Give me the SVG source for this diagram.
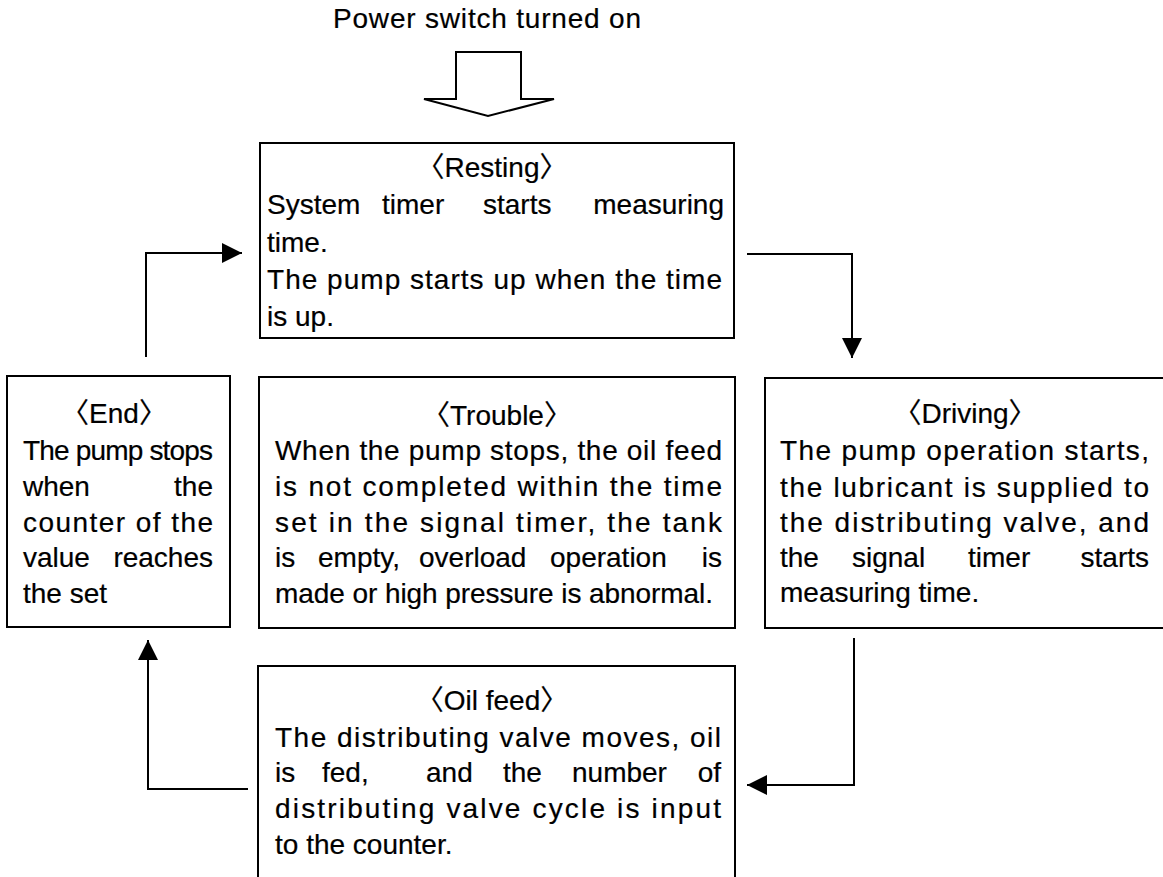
<svg xmlns="http://www.w3.org/2000/svg" width="1163" height="877" viewBox="0 0 1163 877">
<defs>
<style>
.box{fill:#fff;stroke:#000;stroke-width:2}
.t{font-family:"Liberation Sans","Noto Sans CJK JP",sans-serif;font-size:28px;fill:#000;stroke:#000;stroke-width:0.2}
.c{text-anchor:middle}
.e{text-anchor:end}
.ln{fill:none;stroke:#000;stroke-width:2}
</style>
<marker id="ah" markerUnits="userSpaceOnUse" markerWidth="22" markerHeight="22" refX="20" refY="10" orient="auto">
<path d="M0,0 L20,10 L0,20 Z" fill="#000"/>
</marker>
</defs>
<rect width="1163" height="877" fill="#fff"/>

<g id="start">
<text class="t" x="333" y="28" textLength="308">Power switch turned on</text>
<polygon points="456,52 521,52 521,99 554,99 488,116 424,99 456,99" fill="#fff" stroke="#000" stroke-width="2"/>
</g>

<g id="resting">
<rect class="box" x="260" y="143" width="474" height="195"/>
<text class="t c" x="492" y="177">〈Resting〉</text>
<text class="t" x="267" y="214">System</text>
<text class="t" x="382" y="214">timer</text>
<text class="t" x="483" y="214">starts</text>
<text class="t e" x="724" y="214">measuring</text>
<text class="t" x="267" y="252">time.</text>
<text class="t" x="267" y="289" textLength="455">The pump starts up when the time</text>
<text class="t" x="267" y="326">is up.</text>
</g>

<g id="end">
<rect class="box" x="7" y="376" width="223" height="251"/>
<text class="t c" x="114" y="423">〈End〉</text>
<text class="t" x="23" y="460" textLength="190">The pump stops</text>
<text class="t" x="23" y="496">when</text>
<text class="t e" x="213" y="496">the</text>
<text class="t" x="23" y="532" textLength="190">counter of the</text>
<text class="t" x="23" y="567">value</text>
<text class="t e" x="213" y="567">reaches</text>
<text class="t" x="23" y="603">the set</text>
</g>

<g id="trouble">
<rect class="box" x="259" y="377" width="476" height="251"/>
<text class="t c" x="497" y="425">〈Trouble〉</text>
<text class="t" x="275" y="460" textLength="447">When the pump stops,  the oil feed</text>
<text class="t" x="275" y="496" textLength="447">is not completed within the time</text>
<text class="t" x="275" y="532" textLength="447">set in the signal timer,  the tank</text>
<text class="t" x="275" y="567">is</text>
<text class="t" x="318" y="567">empty,</text>
<text class="t" x="419" y="567">overload</text>
<text class="t" x="550" y="567">operation</text>
<text class="t e" x="722" y="567">is</text>
<text class="t" x="275" y="603" textLength="438">made or high pressure is abnormal.</text>
</g>

<g id="driving">
<rect class="box" x="765" y="378" width="420" height="250"/>
<text class="t c" x="965" y="423">〈Driving〉</text>
<text class="t" x="780" y="460" textLength="369">The pump operation starts,</text>
<text class="t" x="780" y="497" textLength="369">the lubricant is supplied to</text>
<text class="t" x="780" y="532" textLength="369">the distributing valve, and</text>
<text class="t" x="780" y="567">the</text>
<text class="t" x="852" y="567">signal</text>
<text class="t" x="968" y="567">timer</text>
<text class="t e" x="1149" y="567">starts</text>
<text class="t" x="780" y="602">measuring time.</text>
</g>

<g id="oilfeed">
<rect class="box" x="258" y="666" width="477" height="230"/>
<text class="t c" x="492" y="710">〈Oil feed〉</text>
<text class="t" x="275" y="747" textLength="446">The distributing valve moves, oil</text>
<text class="t" x="275" y="782">is</text>
<text class="t" x="322" y="782">fed,</text>
<text class="t" x="426" y="782">and</text>
<text class="t" x="503" y="782">the</text>
<text class="t" x="572" y="782">number</text>
<text class="t e" x="721" y="782">of</text>
<text class="t" x="275" y="818" textLength="446">distributing valve cycle is input</text>
<text class="t" x="275" y="854">to the counter.</text>
</g>

<g id="connectors">
<path class="ln" d="M747,254 H852 V358" marker-end="url(#ah)"/>
<path class="ln" d="M854,638 V785 H747" marker-end="url(#ah)"/>
<path class="ln" d="M248,789 H148 V640" marker-end="url(#ah)"/>
<path class="ln" d="M146,357 V253 H242" marker-end="url(#ah)"/>
</g>
</svg>
